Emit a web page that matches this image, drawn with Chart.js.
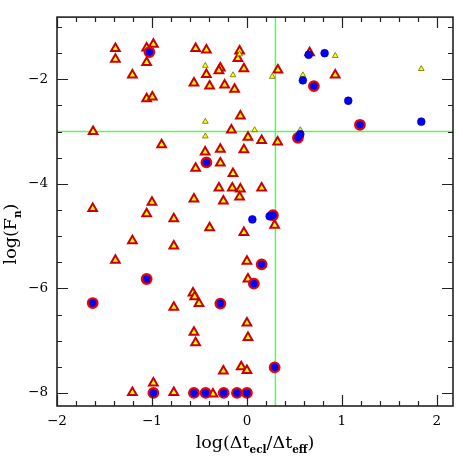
<!DOCTYPE html>
<html><head><meta charset="utf-8">
<script src="https://cdn.jsdelivr.net/npm/chart.js@4/dist/chart.umd.min.js"></script>
<style>html,body{margin:0;padding:0;background:#fff}#wrap{width:463px;height:463px;position:relative}</style>
</head><body><div id="wrap"><canvas id="c" width="463" height="463"></canvas></div>
<script>
// ---- axis ranges and ticks ----
const X_RANGE = [-2, 2.17];
const Y_RANGE = [-8.25, -0.81];
const X_MAJOR_TICKS = [-2, -1, 0, 1, 2];
const Y_MAJOR_TICKS = [-2, -4, -6, -8];
const X_MINOR_STEP = 0.2;
const Y_MINOR_STEP = 0.5;
const THRESH_X = 0.3;
const THRESH_Y = -3;

// ---- data series [x, y] ----
const bigTriangles = [
  [-1.385,-1.41],[-1.385,-1.615],[-1.056,-1.40],[-0.985,-1.33],[-1.056,-1.68],[-1.206,-1.92],
  [-1.056,-2.37],[-0.996,-2.34],[-1.62,-3.0],[-0.898,-3.25],[-0.54,-1.41],[-0.427,-1.44],
  [-0.077,-1.46],[-0.095,-1.60],[-0.427,-1.91],[-0.28,-1.785],[-0.295,-1.835],[-0.032,-1.80],
  [-0.558,-2.07],[-0.393,-2.13],[-0.235,-2.11],[-0.13,-2.19],[0.326,-1.82],[-0.069,-2.70],
  [-0.164,-2.97],[0.011,-3.11],[0.155,-3.17],[0.323,-3.20],[0.66,-1.49],[0.93,-1.92],
  [-0.44,-3.39],[-0.28,-3.34],[-0.032,-3.35],[-0.28,-3.60],[-0.54,-3.70],[-0.147,-3.80],
  [-0.295,-4.08],[-0.154,-4.08],[-0.069,-4.10],[-0.077,-4.25],[0.155,-4.08],[-0.558,-4.29],
  [-0.248,-4.33],[0.292,-4.79],[-0.393,-4.84],[-0.032,-4.93],[0.0,-5.48],[-1.624,-4.47],
  [-1.0,-4.35],[-1.056,-4.57],[-0.77,-4.67],[-1.206,-5.09],[-0.77,-5.19],[-1.385,-5.46],
  [-0.77,-6.36],[-1.206,-7.99],[-0.985,-7.81],[-0.77,-7.99],[0.011,-5.82],[-0.568,-6.09],
  [-0.55,-6.16],[-0.505,-6.29],[0.0,-6.66],[-0.558,-6.84],[-0.54,-7.04],[0.011,-6.94],
  [-0.06,-7.50],[0.0,-7.57],[-0.248,-7.58],[-0.358,-8.02]
];
const smallTriangles = [
  [-0.438,-1.74],[-0.147,-1.92],[0.267,-1.95],[0.589,-1.92],[-0.438,-2.81],[0.081,-2.97],
  [-0.438,-3.09],[0.562,-2.97],[0.93,-1.55],[1.836,-1.80],[-0.077,-1.52]
];
const blueCircles = [
  [0.65,-1.53],[0.818,-1.50],[0.589,-2.02],[1.067,-2.41],[1.836,-2.81],[0.562,-3.05],
  [0.057,-4.68],[0.239,-4.62]
];
const ringedCircles = [
  [-1.027,-1.48],[0.705,-2.13],[1.19,-2.87],[0.537,-3.12],[-0.427,-3.59],[0.274,-4.60],
  [0.155,-5.54],[-1.056,-5.82],[-1.624,-6.28],[-0.28,-6.29],[0.073,-5.91],[0.292,-7.51],
  [-0.985,-8.0],[-0.558,-8.0],[-0.435,-8.0],[-0.245,-8.0],[-0.105,-8.0],[0.0,-8.0]
];

const toPts = arr => arr.map(([x, y]) => ({x, y}));
const fmt = v => (v < 0 ? '\u2212' + Math.abs(v) : String(v));

const decor = {
  id: 'decor',
  beforeDatasetsDraw(chart) {
    const {ctx, chartArea: a, scales: {x, y}} = chart;
    ctx.save();
    ctx.strokeStyle = '#5cf75c';
    ctx.lineWidth = 1.5;
    const gx = x.getPixelForValue(THRESH_X), gy = y.getPixelForValue(THRESH_Y);
    ctx.beginPath();
    ctx.moveTo(gx, a.top); ctx.lineTo(gx, a.bottom);
    ctx.moveTo(a.left, gy); ctx.lineTo(a.right, gy);
    ctx.stroke();
    ctx.restore();
  },
  afterDraw(chart) {
    const {ctx, chartArea: a, scales: {x, y}} = chart;
    ctx.save();
    ctx.strokeStyle = '#222';
    ctx.lineWidth = 1.2;
    ctx.beginPath();
    // x ticks (bottom and top, inward)
    for (let i = 0; ; i++) {
      const v = X_RANGE[0] + i * X_MINOR_STEP;
      if (v > X_RANGE[1] + 1e-9) break;
      const isMajor = X_MAJOR_TICKS.some(t => Math.abs(t - v) < 1e-6);
      const L = isMajor ? 11 : 5;
      const px = Math.round(x.getPixelForValue(v)) + 0.5;
      ctx.moveTo(px, a.bottom); ctx.lineTo(px, a.bottom - L);
      ctx.moveTo(px, a.top); ctx.lineTo(px, a.top + L);
    }
    // y ticks (left and right, inward)
    for (let i = 0; ; i++) {
      const v = -8 + i * Y_MINOR_STEP;
      if (v > Y_RANGE[1]) break;
      const isMajor = Y_MAJOR_TICKS.some(t => Math.abs(t - v) < 1e-6);
      const L = isMajor ? 11 : 5;
      const py = Math.round(y.getPixelForValue(v)) + 0.5;
      ctx.moveTo(a.left, py); ctx.lineTo(a.left + L, py);
      ctx.moveTo(a.right, py); ctx.lineTo(a.right - L, py);
    }
    ctx.stroke();
    ctx.lineWidth = 1.6;
    ctx.strokeRect(a.left, a.top, a.right - a.left, a.bottom - a.top);

    // axis titles with subscripts
    const drawParts = (parts, cx, cy) => {
      let total = 0;
      parts.forEach(p => { ctx.font = p.f; p.w = ctx.measureText(p.t).width; total += p.w; });
      let xx = cx - total / 2;
      ctx.textBaseline = 'alphabetic';
      ctx.textAlign = 'left';
      ctx.fillStyle = '#000';
      parts.forEach(p => { ctx.font = p.f; ctx.fillText(p.t, xx, cy + (p.dy || 0)); xx += p.w; });
    };
    const MAIN = '17.5px "DejaVu Serif"';
    const SUB = 'bold 10.5px "DejaVu Serif"';
    drawParts([
      {t: 'log(\u0394t', f: MAIN}, {t: 'ecl', f: SUB, dy: 4.5},
      {t: '/\u0394t', f: MAIN}, {t: 'eff', f: SUB, dy: 4.5}, {t: ')', f: MAIN}
    ], (a.left + a.right) / 2, 448);
    ctx.translate(16, 234);
    ctx.rotate(-Math.PI / 2);
    drawParts([
      {t: 'log(F', f: MAIN}, {t: 'n', f: SUB, dy: 4.5}, {t: ')', f: MAIN}
    ], 0, 0);
    ctx.restore();
  }
};

new Chart(document.getElementById('c'), {
  type: 'scatter',
  data: {
    datasets: [
      {label: 'blue', data: toPts(blueCircles), order: 1, pointStyle: 'circle',
       pointRadius: 3.9, backgroundColor: '#0000f5', borderColor: '#0000b0', borderWidth: 0.6},
      {label: 'ringed', data: toPts(ringedCircles), order: 2, pointStyle: 'circle',
       pointRadius: 4.8, backgroundColor: '#0000f5', borderColor: '#f00000', borderWidth: 2.2},
      {label: 'small', data: toPts(smallTriangles), order: 3, pointStyle: 'triangle',
       pointRadius: 3.3, backgroundColor: '#ffff00', borderColor: '#6b6b00', borderWidth: 0.8},
      {label: 'big', data: toPts(bigTriangles), order: 4, pointStyle: 'triangle',
       pointRadius: 5, backgroundColor: '#ffff00', borderColor: '#c80000', borderWidth: 2}
    ]
  },
  options: {
    responsive: false,
    devicePixelRatio: 1,
    animation: false,
    events: [],
    layout: {padding: {top: 11, right: 10, left: 0, bottom: 0}},
    plugins: {legend: {display: false}, tooltip: {enabled: false}},
    scales: {
      x: {
        type: 'linear', position: 'bottom', min: X_RANGE[0], max: X_RANGE[1],
        afterBuildTicks: s => { s.ticks = X_MAJOR_TICKS.map(v => ({value: v})); },
        afterFit: s => { s.height = 57; },
        grid: {display: false, drawTicks: false},
        border: {display: false},
        ticks: {callback: v => fmt(v), color: '#000', padding: 7, maxRotation: 0,
                font: {family: 'DejaVu Serif', size: 13.5}}
      },
      y: {
        type: 'linear', position: 'left', min: Y_RANGE[0], max: Y_RANGE[1],
        afterBuildTicks: s => { s.ticks = Y_MAJOR_TICKS.map(v => ({value: v})); },
        afterFit: s => { s.width = 57; },
        grid: {display: false, drawTicks: false},
        border: {display: false},
        ticks: {callback: v => fmt(v), color: '#000', padding: 9,
                font: {family: 'DejaVu Serif', size: 13.5}}
      }
    }
  },
  plugins: [decor]
});
</script>
</body></html>
